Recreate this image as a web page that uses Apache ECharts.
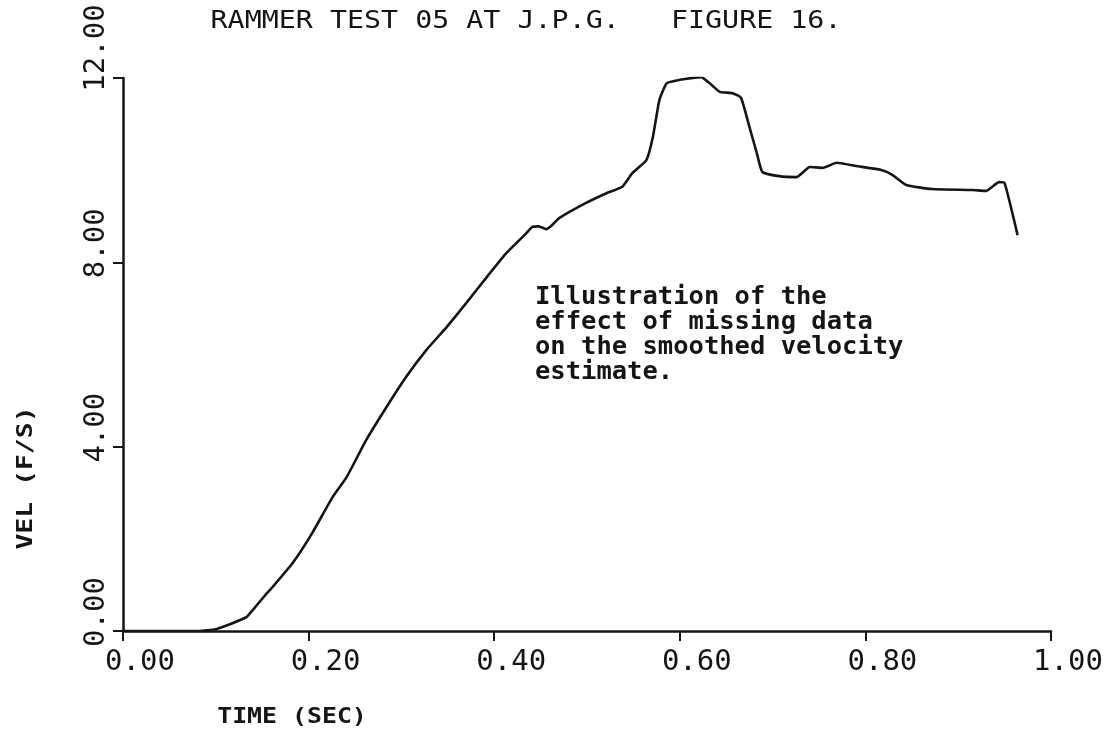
<!DOCTYPE html>
<html>
<head>
<meta charset="utf-8">
<script src="https://cdn.jsdelivr.net/npm/echarts@6/dist/echarts.min.js"></script>
<style>
  html, body { margin: 0; padding: 0; background: #fff; }
  #chart { width: 1109px; height: 734px; }
</style>
</head>
<body>
<div id="chart"></div>
<script>
// Smoothed velocity estimate, rammer test 05
const timeSec = [
  0.000, 0.050, 0.082, 0.100, 0.118, 0.133, 0.140, 0.155, 0.161, 0.183,
  0.204, 0.226, 0.241, 0.262, 0.284, 0.305, 0.327, 0.349, 0.370, 0.392,
  0.413, 0.435, 0.441, 0.448, 0.456, 0.462, 0.470, 0.499, 0.521, 0.538,
  0.549, 0.564, 0.571, 0.578, 0.586, 0.600, 0.623, 0.632, 0.643, 0.657,
  0.666, 0.675, 0.683, 0.689, 0.707, 0.726, 0.740, 0.754, 0.769, 0.790,
  0.818, 0.829, 0.844, 0.872, 0.915, 0.930, 0.944, 0.950, 0.964
];
const velocity = [
  0.00, 0.00, 0.00, 0.04, 0.17, 0.30, 0.46, 0.82, 0.95, 1.48,
  2.13, 2.91, 3.34, 4.14, 4.86, 5.51, 6.10, 6.60, 7.12, 7.68,
  8.20, 8.64, 8.77, 8.78, 8.72, 8.80, 8.96, 9.29, 9.50, 9.64,
  9.94, 10.22, 10.72, 11.52, 11.89, 11.96, 12.02, 11.89, 11.70, 11.67,
  11.57, 10.94, 10.37, 9.96, 9.87, 9.85, 10.07, 10.05, 10.16, 10.09,
  10.00, 9.90, 9.68, 9.59, 9.57, 9.55, 9.74, 9.72, 8.59
];
const xTicks = { min: 0, max: 1, step: 0.2 };
const yTicks = { min: 0, max: 12, step: 4 };

const titleText = 'RAMMER TEST 05 AT J.P.G.   FIGURE 16.';
const xTitle = 'TIME (SEC)';
const yTitle = 'VEL (F/S)';
const noteLines = [
  'Illustration of the',
  'effect of missing data',
  'on the smoothed velocity',
  'estimate.'
];

const ink = '#151515';
const mono = '"DejaVu Sans Mono", "Liberation Mono", monospace';

const chart = echarts.init(document.getElementById('chart'), null, { renderer: 'canvas' });

chart.setOption({
  backgroundColor: '#ffffff',
  animation: false,
  grid: { left: 123, right: 58, top: 78, bottom: 103, containLabel: false },
  xAxis: {
    type: 'value',
    min: xTicks.min, max: xTicks.max, interval: xTicks.step,
    axisLine: { show: true, lineStyle: { color: ink, width: 2.5 } },
    axisTick: { show: true, length: 10, inside: false, lineStyle: { color: ink, width: 2 } },
    splitLine: { show: false },
    axisLabel: {
      color: ink, fontFamily: mono, fontSize: 29, margin: 17,
      align: 'center', padding: [0, 0, 0, 34],
      showMinLabel: true, showMaxLabel: true,
      formatter: v => v.toFixed(2)
    }
  },
  yAxis: {
    type: 'value',
    min: yTicks.min, max: yTicks.max, interval: yTicks.step,
    axisLine: { show: true, lineStyle: { color: ink, width: 2.5 } },
    axisTick: { show: true, length: 10, inside: false, lineStyle: { color: ink, width: 2 } },
    splitLine: { show: false },
    axisLabel: {
      color: ink, fontFamily: mono, fontSize: 29, margin: 12, rotate: 90,
      showMinLabel: true, showMaxLabel: true,
      formatter: v => (v >= 10 ? '{w|' : '{n|') + v.toFixed(2) + '}',
      rich: {
        n: { fontFamily: mono, fontSize: 29, color: ink, padding: [0, 0, 0, 38] },
        w: { fontFamily: mono, fontSize: 29, color: ink, padding: [0, 0, 0, 60] }
      }
    }
  },
  series: [{
    type: 'line',
    data: timeSec.map((t, i) => [t, velocity[i]]),
    showSymbol: false,
    smooth: 0.15,
    lineStyle: { color: ink, width: 2.6 },
    z: 3
  }],
  graphic: [
    {
      type: 'text', x: 526, y: 22, scaleX: 1.18,
      style: { text: titleText, font: '24px ' + mono, fill: ink, align: 'center', verticalAlign: 'middle' }
    },
    {
      type: 'text', x: 292, y: 717, scaleX: 1.13,
      style: { text: xTitle, font: 'bold 22px ' + mono, fill: ink, align: 'center', verticalAlign: 'middle' }
    },
    {
      type: 'text', x: 26, y: 478, rotation: Math.PI / 2, scaleX: 1.2,
      style: { text: yTitle, font: 'bold 22px ' + mono, fill: ink, align: 'center', verticalAlign: 'middle' }
    },
    {
      type: 'text', x: 535, y: 285,
      style: {
        text: noteLines.join('\n'), font: 'bold 25.5px ' + mono, fill: ink,
        lineHeight: 25, align: 'left', verticalAlign: 'top'
      }
    }
  ]
});
</script>
</body>
</html>
